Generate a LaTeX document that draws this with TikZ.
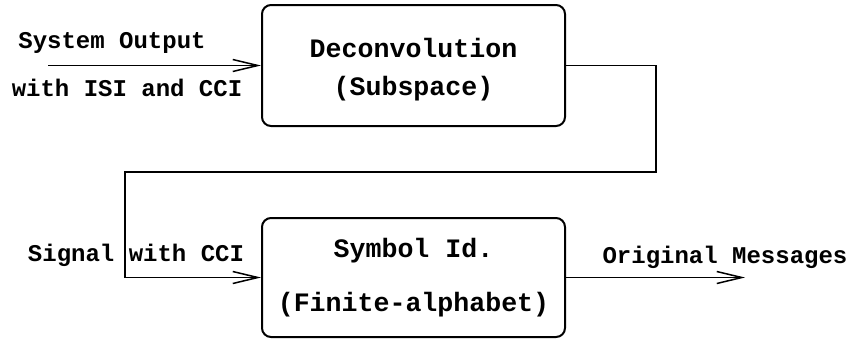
\documentclass[tikz,border=0pt]{standalone}
\usepackage{fontspec}
\setmonofont{Liberation Mono}
\usetikzlibrary{arrows.meta}
\begin{document}
\begin{tikzpicture}[x=0.5pt,y=-0.5pt,
  blockbox/.style={draw, line width=1pt, rounded corners=4.5pt, minimum width=151.5pt, align=center,
     font=\ttfamily\bfseries\fontsize{13.3}{19}\selectfont, inner sep=0pt},
  lbl/.style={font=\ttfamily\bfseries\fontsize{12}{14}\selectfont, inner sep=0pt},
  conn/.style={line width=0.75pt, -{Straight Barb[length=12.5pt,width=6pt,line width=0.75pt]}},
  wire/.style={line width=0.75pt}]
\useasboundingbox (0,0) rectangle (850,339);
\node[blockbox, minimum height=60.5pt] (dec) at (413.5,65.5) {\rule{0pt}{14pt}Deconvolution\\(Subspace)};
\node[blockbox, minimum height=59.5pt] (sym) at (413.5,277.5) {Symbol Id.\\[8pt](Finite-alphabet)};
\coordinate (in) at (48,65.5);
\coordinate (out) at (745,277.5);
\coordinate (c1) at (656,65.5);
\coordinate (c2) at (656,172);
\coordinate (c3) at (125,172);
\coordinate (c4) at (125,277.5);
\node[lbl] (l1) at (112,43) {System Output};
\node[lbl] (l2) at (127,88) {with ISI and CCI};
\node[lbl] (l3) at (136,255) {Signal with CCI};
\node[lbl] (l4) at (725,257) {Original Messages};
\draw[conn] (in) -- (dec.west);
\draw[conn] (dec.east) -- (c1) -- (c2) -- (c3) -- (c4) -- (sym.west);
\draw[conn] (sym.east) -- (out);
\end{tikzpicture}
\end{document}
